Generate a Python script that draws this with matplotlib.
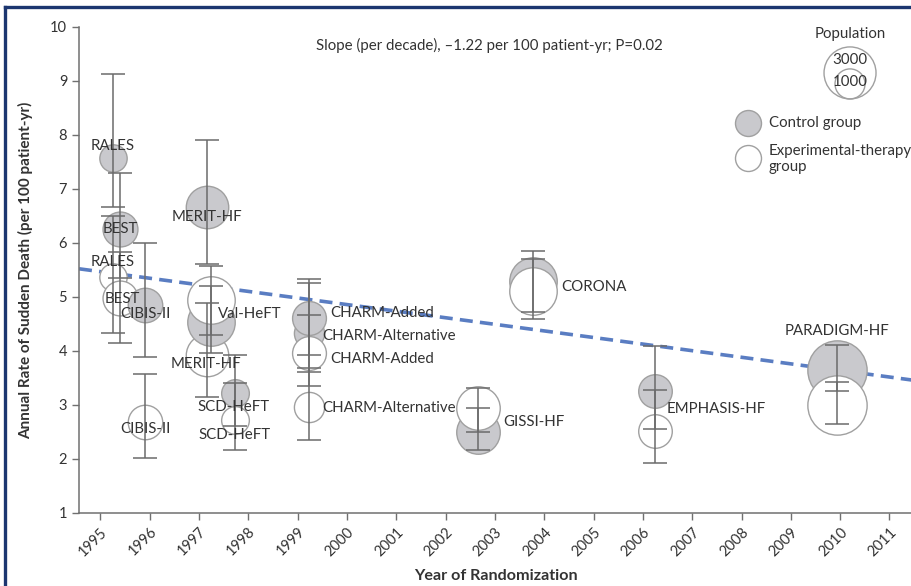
import numpy as np
import matplotlib
matplotlib.use("Agg")
import matplotlib.pyplot as plt
from matplotlib.transforms import offset_copy
from matplotlib.lines import Line2D

# ---- data -----------------------------------------------------------------
trials = ["RALES", "BEST", "CIBIS-II", "MERIT-HF", "Val-HeFT", "SCD-HeFT",
          "CHARM-Alternative", "CHARM-Added", "GISSI-HF", "CORONA",
          "EMPHASIS-HF", "PARADIGM-HF"]
year = [1995.25, 1995.41, 1995.90, 1997.17, 1997.25, 1997.74,
        1999.24, 1999.24, 2002.66, 2003.78, 2006.25, 2009.94]

ctrl_rate = [7.57, 6.26, 4.85, 6.67, 4.54, 3.22, 4.33, 4.61, 2.50, 5.29, 3.26, 3.65]
ctrl_lo = [6.67, 5.35, 3.89, 5.61, 3.96, 2.61, 3.35, 3.93, 2.17, 4.72, 2.56, 3.26]
ctrl_hi = [9.13, 7.30, 6.00, 7.91, 5.20, 3.93, 5.26, 5.33, 2.94, 5.85, 4.09, 4.11]

exp_rate = [5.37, 4.98, 2.69, 3.93, 4.94, 2.72, 2.96, 3.96, 2.94, 5.12, 2.52, 3.00]
exp_lo = [4.33, 4.15, 2.02, 3.15, 4.30, 2.17, 2.35, 3.61, 2.50, 4.59, 1.93, 2.65]
exp_hi = [6.50, 5.83, 3.57, 4.89, 5.57, 3.41, 3.69, 4.67, 3.31, 5.70, 3.28, 3.43]

ctrl_n = [830, 1350, 1320, 2000, 2500, 850, 1010, 1270, 2100, 2500, 1250, 3900]
exp_n = [830, 1350, 1320, 2000, 2500, 850, 1010, 1270, 2100, 2500, 1250, 3900]

# which trial arms carry a name label: (trial index, arm, dx px, dy px, ha)
labels = [
    (0, "c", 0, 12, "center"), (1, "c", 0, 0, "center"),
    (0, "e", 0, 15, "center"), (1, "e", 2, -1, "center"),
    (2, "c", 1, -9, "center"), (2, "e", 1, -7, "center"),
    (3, "c", 0, -10, "center"), (3, "e", -1, -9, "center"),
    (4, "e", 7, -14, "left"),
    (5, "c", -2, -14, "center"), (5, "e", -1, -15, "center"),
    (7, "c", 21, 5, "left"), (6, "c", 13, -3, "left"),
    (7, "e", 21, -6, "left"), (6, "e", 13, -1, "left"),
    (8, "e", 25, -14, "left"), (9, "e", 28, 4, "left"),
    (10, "c", 11, -18, "left"), (11, "c", 0, 39, "center"),
]

year_ticks = list(range(1995, 2012))
rate_ticks = list(range(1, 11))

slope_per_decade = -1.22
trend_at_2000 = 4.86

legend_pop = [3000, 1000]

# ---- styling --------------------------------------------------------------
DPI = 100
plt.rcParams["font.family"] = ["Lato", "DejaVu Sans"]
TXT = "#333333"
GRAY_FILL = "#c9c9cd"
EDGE = "#a0a0a0"
BAR = "#6b6b6b"
TREND = "#5a7dc2"
FS = 10.8

def size_pts2(n):
    # marker area proportional to population; 3000 patients ~ 26 px radius
    r_px = 26.0 * np.sqrt(n / 3000.0)
    d_pt = 2 * r_px * 72.0 / DPI
    return d_pt ** 2

fig = plt.figure(figsize=(9.12, 5.86), dpi=DPI)
ax = fig.add_axes([79 / 912, 73 / 586, 833 / 912, 486 / 586])
ax.set_xlim(1994.57, 1994.57 + 833 / 49.33)
ax.set_ylim(1, 10)

# trend line
xs = np.array(ax.get_xlim())
ax.plot(xs, trend_at_2000 + slope_per_decade / 10 * (xs - 2000),
        color=TREND, lw=2.6, ls=(0, (3.6, 2.0)), zorder=1, solid_capstyle="butt")

# bubbles, one trial at a time so later trials sit on top
for i in range(len(trials)):
    ax.scatter([year[i]], [ctrl_rate[i]], s=size_pts2(ctrl_n[i]), facecolor=GRAY_FILL,
               edgecolor=EDGE, linewidth=1.0, zorder=2 + i * 0.1, clip_on=False)
    ax.scatter([year[i]], [exp_rate[i]], s=size_pts2(exp_n[i]), facecolor="white",
               edgecolor=EDGE, linewidth=1.0, zorder=2.05 + i * 0.1, clip_on=False)

# confidence intervals
yr = np.array(year)
for rate, lo, hi in [(ctrl_rate, ctrl_lo, ctrl_hi), (exp_rate, exp_lo, exp_hi)]:
    rate = np.array(rate)
    err = np.vstack([rate - np.array(lo), np.array(hi) - rate])
    ax.errorbar(yr, rate, yerr=err, fmt="none", ecolor=BAR, elinewidth=1.1,
                capsize=8.5, capthick=1.1, zorder=5)

# trial names
for idx, arm, dx, dy, ha in labels:
    y = ctrl_rate[idx] if arm == "c" else exp_rate[idx]
    ax.annotate(trials[idx], (year[idx], y), xytext=(dx, dy), textcoords="offset pixels",
                ha=ha, va="center", fontsize=FS, color=TXT, zorder=6)

# slope annotation
ax.text(0.284, 0.962, "Slope (per decade), \u20131.22 per 100 patient-yr; P=0.02",
        transform=ax.transAxes, fontsize=FS, color=TXT, ha="left", va="center")

# population key
ax.text(0.9256, 0.985, "Population", transform=ax.transAxes, fontsize=FS,
        color=TXT, ha="center", va="center")
for n in legend_pop:
    s = size_pts2(n)
    r_px = np.sqrt(s) / 2 * DPI / 72
    tr = offset_copy(ax.transAxes, fig=fig, x=0, y=r_px, units="dots")
    ax.scatter([0.9256], [0.852], s=s, facecolor="none", edgecolor=EDGE,
               linewidth=1.0, transform=tr, clip_on=False, zorder=3)
ax.text(0.9256, 0.933, "3000", transform=ax.transAxes, fontsize=FS, color=TXT,
        ha="center", va="center")
ax.text(0.9256, 0.886, "1000", transform=ax.transAxes, fontsize=FS, color=TXT,
        ha="center", va="center")

# arm key
ax.scatter([0.803], [0.802], s=size_pts2(750), facecolor=GRAY_FILL, edgecolor=EDGE,
           linewidth=1.0, transform=ax.transAxes, clip_on=False, zorder=3)
ax.scatter([0.803], [0.730], s=size_pts2(750), facecolor="white", edgecolor=EDGE,
           linewidth=1.0, transform=ax.transAxes, clip_on=False, zorder=3)
ax.text(0.828, 0.802, "Control group", transform=ax.transAxes, fontsize=FS,
        color=TXT, ha="left", va="center")
ax.text(0.828, 0.728, "Experimental-therapy\ngroup", transform=ax.transAxes,
        fontsize=FS, color=TXT, ha="left", va="center", linespacing=1.2)

# axes
for side in ("top", "right"):
    ax.spines[side].set_visible(False)
for side in ("left", "bottom"):
    ax.spines[side].set_color("#707070")
    ax.spines[side].set_linewidth(1.1)
ax.set_xticks(year_ticks)
ax.set_xticklabels([str(t) for t in year_ticks], rotation=45, ha="right",
                   rotation_mode="anchor")
ax.set_yticks(rate_ticks)
ax.tick_params(axis="both", colors="#707070", labelcolor=TXT, labelsize=10.5,
               length=5, width=1.0)
ax.set_xlabel("Year of Randomization", fontsize=11.6, fontweight="bold", color=TXT,
              labelpad=7)
ax.set_ylabel("Annual Rate of Sudden Death (per 100 patient-yr)", fontsize=11,
              fontweight="bold", color=TXT, labelpad=12)
ax.patch.set_alpha(0)

# frame around the panel
fig.add_artist(Line2D([5 / 912, 5 / 912], [0, 1 - 7 / 586], transform=fig.transFigure,
                      color="#1c3670", lw=2.4))
fig.add_artist(Line2D([5 / 912, 1], [1 - 7 / 586, 1 - 7 / 586], transform=fig.transFigure,
                      color="#1c3670", lw=2.4))

fig.savefig("out.png", dpi=DPI)
